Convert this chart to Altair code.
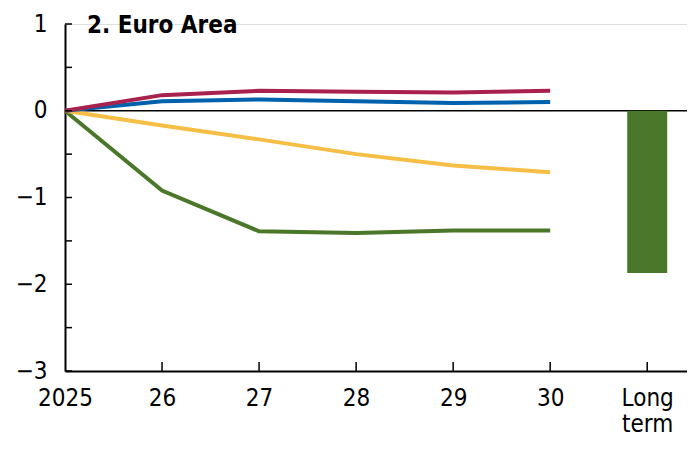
import altair as alt
import pandas as pd

# ---- data ----
x_labels = ["2025", "26", "27", "28", "29", "30", "Long term"]
years_idx = [0, 1, 2, 3, 4, 5]
series_names = ["Green", "Yellow", "Blue", "Red"]
green = [0.0, -0.92, -1.39, -1.41, -1.38, -1.38]
yellow = [0.0, -0.17, -0.33, -0.50, -0.63, -0.71]
blue = [0.0, 0.11, 0.13, 0.11, 0.09, 0.10]
red = [0.0, 0.18, 0.23, 0.22, 0.21, 0.23]
long_term_value = [-1.87]
long_term_idx = [6]
series_colors = ["#4A7729", "#F6BE45", "#0062AD", "#A8214F"]
y_ticks = [1, 0.5, 0, -0.5, -1, -1.5, -2, -2.5, -3]
x_ticks = [1, 2, 3, 4, 5, 6]
title_text = "2. Euro Area"

W, H = 622, 347
FONT = "Liberation Sans Narrow, Arial Narrow, DejaVu Sans Condensed, sans-serif"

rows = []
for name, vals in zip(series_names, [green, yellow, blue, red]):
    for i, v in zip(years_idx, vals):
        rows.append({"series": name, "idx": i, "value": v})
lines_df = pd.DataFrame(rows)
bar_df = pd.DataFrame({"idx": long_term_idx, "value": long_term_value, "zero": [0] * len(long_term_idx)})

label_expr = "[" + ",".join(
    "['" + "','".join(lbl.split(" ")) + "']" for lbl in x_labels
) + "][datum.value]"

xscale = alt.Scale(domain=[0, 6.41], nice=False, zero=False, padding=0)
yscale = alt.Scale(domain=[-3, 1], nice=False, padding=0)

x_axis = alt.Axis(
    values=list(range(len(x_labels))), labelExpr=label_expr, title=None, grid=False,
    ticks=False, domain=True, domainColor="black", domainWidth=2,
    labelFontSize=24, labelFont=FONT, labelColor="black", labelPadding=15,
    labelLineHeight=26, labelFlush=False,
)
y_axis = alt.Axis(
    values=[1, 0, -1, -2, -3], labelExpr="replace(format(datum.value, 'd'), '-', '\u2212')",
    title=None, grid=False, ticks=False, domain=True, domainColor="black", domainWidth=2,
    labelFontSize=24, labelFont=FONT, labelColor="black", labelPadding=18,
)

zero_line = alt.Chart(pd.DataFrame({"zero": [0]})).mark_rule(color="black", strokeWidth=1.5).encode(
    y=alt.Y("zero:Q", scale=yscale, axis=y_axis)
)

bar = alt.Chart(bar_df).mark_bar(size=40, color="#4A7729").encode(
    x=alt.X("idx:Q", scale=xscale, axis=x_axis),
    y=alt.Y("value:Q", scale=yscale),
    y2="zero:Q",
)

lines = alt.Chart(lines_df).mark_line(strokeWidth=4).encode(
    x=alt.X("idx:Q", scale=xscale),
    y=alt.Y("value:Q", scale=yscale),
    color=alt.Color("series:N", scale=alt.Scale(domain=series_names, range=series_colors), legend=None),
    order=alt.Order("idx:Q"),
)

xtick_marks = alt.Chart(pd.DataFrame({"idx": x_ticks})).mark_rule(color="black", strokeWidth=1.5).encode(
    x=alt.X("idx:Q", scale=xscale), y=alt.value(H), y2=alt.value(H - 9)
)
ytick_marks = alt.Chart(pd.DataFrame({"v": y_ticks})).mark_rule(color="black", strokeWidth=1.5).encode(
    y=alt.Y("v:Q", scale=yscale), x=alt.value(0), x2=alt.value(7)
)

title = alt.Chart(pd.DataFrame({"t": [title_text]})).mark_text(
    align="left", baseline="alphabetic", fontSize=24, fontWeight="bold", font=FONT, color="black"
).encode(text="t:N", x=alt.value(22), y=alt.value(9))

chart = alt.layer(zero_line, bar, lines, xtick_marks, ytick_marks, title).properties(
    width=W, height=H, autosize="none",
    padding={"left": 57, "top": 16, "right": 0, "bottom": 66},
).configure_view(stroke=None).configure(font=FONT, background="white")

chart.save("out.html", embed_options={"renderer": "svg", "actions": False})
